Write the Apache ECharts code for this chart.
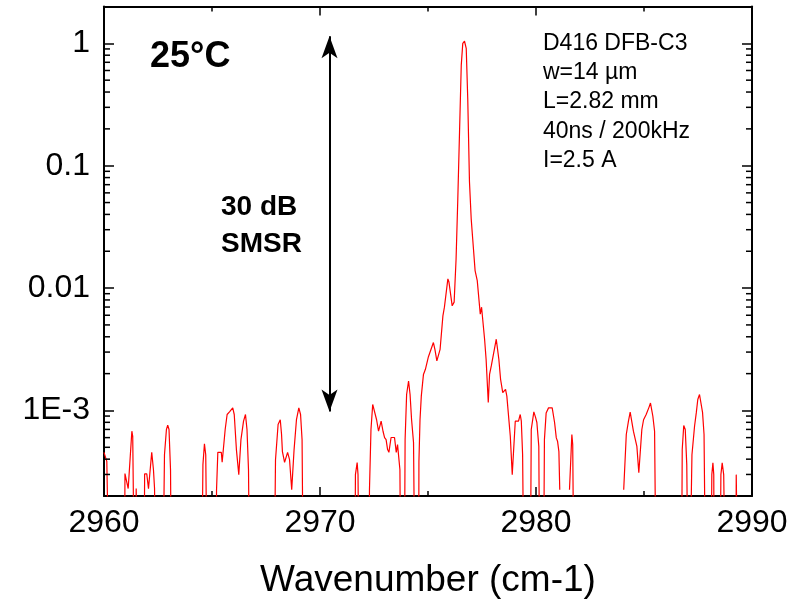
<!DOCTYPE html>
<html>
<head>
<meta charset="utf-8">
<script src="https://cdn.jsdelivr.net/npm/echarts@6/dist/echarts.min.js"></script>
<style>html,body{margin:0;padding:0;background:#fff}#c{width:802px;height:604px}</style>
</head>
<body>
<div id="c"></div>
<script>
// Wavenumber (cm-1) and normalized intensity.
// 1e-5 = below the axis floor (drops out of view); null = gap in the trace.
var wavenumber = [
2960.00,2960.09,2960.13,2960.21,2960.29,
2960.94,2960.97,2961.06,2961.12,2961.21,2961.29,2961.33,2961.44,2961.49,2961.55,2961.60,
2961.85,2961.88,2961.98,2962.06,2962.12,2962.21,2962.29,2962.34,2962.40,2962.43,
2962.69,2962.80,2962.89,2962.95,2963.01,2963.08,2963.14,
2964.49,2964.58,2964.65,2964.71,2964.81,
2965.19,2965.21,2965.27,2965.43,2965.47,2965.53,2965.61,2965.70,2965.81,2965.90,2965.96,2966.03,2966.13,2966.24,2966.34,2966.46,2966.55,2966.62,2966.69,2966.77,
2967.85,2967.94,2968.06,2968.16,2968.22,2968.26,2968.36,2968.50,2968.59,2968.69,2968.80,2968.91,2969.02,2969.10,2969.17,2969.25,
2971.60,2971.64,2971.69,2971.72,2971.76,2971.83,
2972.27,2972.29,2972.36,2972.44,2972.52,2972.62,2972.71,2972.83,2972.92,2972.99,2973.06,2973.13,2973.19,2973.29,2973.45,2973.53,2973.59,2973.65,2973.70,2973.76,
2973.89,2973.94,2974.01,2974.10,2974.17,2974.24,2974.33,2974.42,
2974.56,2974.58,2974.63,2974.69,2974.79,2974.88,2975.02,2975.11,2975.25,2975.32,2975.41,2975.56,2975.69,2975.76,2975.92,2975.97,2976.12,2976.21,2976.30,2976.38,2976.46,2976.54,2976.61,2976.69,2976.77,2976.84,2976.92,2977.00,2977.07,2977.18,2977.28,2977.42,2977.48,2977.62,2977.69,2977.79,2977.85,2977.93,2978.00,2978.16,2978.28,2978.36,2978.46,2978.59,2978.65,2978.81,2978.90,2979.04,2979.19,2979.27,2979.32,2979.38,2979.47,
2979.72,2979.78,2979.90,2979.98,2980.04,2980.13,2980.19,
2980.33,2980.39,2980.47,2980.58,2980.75,2980.86,2980.94,2981.00,2981.06,2981.10,2981.30,
2981.55,2981.66,2981.70,2981.78,2983.00,
2984.06,2984.18,2984.28,2984.36,2984.41,2984.51,2984.59,2984.67,2984.76,2984.84,2984.90,2984.98,2985.10,2985.18,2985.23,2985.30,2985.41,2985.49,2985.59,
2986.72,2986.77,2986.84,2986.91,2986.98,2987.07,
2987.14,2987.22,2987.34,2987.42,2987.49,2987.57,2987.65,2987.71,2987.78,2987.88,
2988.08,2988.14,2988.19,2988.23,2988.26,
2988.50,2988.56,2988.62,2988.69,2988.72,2988.81,
2989.24,2989.27,2989.35,2989.39,2990.00
];
var intensity = [
4.55e-4,4.55e-4,3.84e-4,3.84e-4,1e-5,
1e-5,3.05e-4,3.05e-4,2.30e-4,2.30e-4,6.77e-4,6.15e-4,1e-5,2.30e-4,2.30e-4,1e-5,
1e-5,3.03e-4,3.03e-4,2.30e-4,2.30e-4,4.55e-4,3.28e-4,2.30e-4,2.30e-4,1e-5,
1e-5,4.35e-4,6.99e-4,7.58e-4,6.99e-4,3.28e-4,1e-5,
1e-5,3.61e-4,5.33e-4,4.35e-4,1e-5,
1e-5,2.25e-4,4.55e-4,4.55e-4,3.77e-4,3.77e-4,6.99e-4,9.27e-4,9.75e-4,9.75e-4,1.05e-3,9.27e-4,4.79e-4,2.99e-4,5.78e-4,8.17e-4,9.27e-4,6.99e-4,3.28e-4,1e-5,
1e-5,3.96e-4,7.68e-4,8.40e-4,6.36e-4,4.61e-4,3.77e-4,4.55e-4,3.96e-4,2.25e-4,4.79e-4,8.40e-4,1.05e-3,9.27e-4,5.78e-4,1e-5,
1e-5,2.99e-4,2.99e-4,3.75e-4,2.99e-4,1e-5,
1e-5,2.25e-4,7.00e-4,1.12e-3,1.12e-3,8.40e-4,6.77e-4,8.17e-4,6.73e-4,6.01e-4,5.78e-4,4.79e-4,4.55e-4,6.01e-4,6.01e-4,4.55e-4,5.26e-4,5.26e-4,3.28e-4,1e-5,
1e-5,5.78e-4,1.35e-3,1.74e-3,1.35e-3,8.40e-4,5.47e-4,1e-5,
1e-5,3.84e-4,8.40e-4,1.31e-3,1.97e-3,2.17e-3,2.75e-3,2.75e-3,3.59e-3,3.16e-3,2.54e-3,3.16e-3,5.93e-3,6.98e-3,1.19e-2,1.12e-2,7.16e-3,7.68e-3,1.73e-2,5.37e-2,0.189,0.664,1.00,1.04,0.91,0.354,0.0740,0.0368,0.0252,0.0139,0.0115,6.12e-3,6.98e-3,3.82e-3,2.62e-3,1.16e-3,1.97e-3,2.31e-3,2.25e-3,3.82e-3,2.62e-3,1.80e-3,1.40e-3,1.49e-3,1.31e-3,6.15e-4,2.99e-4,8.17e-4,8.17e-4,9.27e-4,8.17e-4,4.35e-4,1e-5,
1e-5,6.99e-4,9.75e-4,8.77e-4,7.97e-4,5.09e-4,1e-5,
1e-5,5.78e-4,9.55e-4,1.05e-3,1.05e-3,7.97e-4,5.97e-4,5.57e-4,4.61e-4,2.25e-4,null,
2.25e-4,6.36e-4,5.26e-4,1e-5,null,
2.25e-4,6.36e-4,8.17e-4,9.68e-4,9.68e-4,6.77e-4,6.77e-4,5.09e-4,3.10e-4,3.10e-4,6.99e-4,8.40e-4,9.27e-4,9.55e-4,1.06e-3,1.15e-3,8.97e-4,6.77e-4,1e-5,
1e-5,4.79e-4,7.53e-4,6.99e-4,3.61e-4,1e-5,
1e-5,4.35e-4,7.43e-4,9.55e-4,1.23e-3,1.35e-3,1.31e-3,9.64e-4,6.36e-4,1e-5,
1e-5,2.99e-4,3.73e-4,2.99e-4,1e-5,
1e-5,2.99e-4,3.73e-4,2.99e-4,2.99e-4,1e-5,
1e-5,2.99e-4,2.99e-4,1e-5,1e-5
];

var xMin = 2960, xMax = 2990, xInterval = 10;
var yMin = 0.0002, yMax = 2;
var yTickValues = [0.001, 0.01, 0.1, 1];
var yTickLabels = ['1E-3', '0.01', '0.1', '1'];
var yMinorTicks = [];
[0.0001, 0.001, 0.01, 0.1].forEach(function (d) {
  for (var k = 2; k <= 9; k++) {
    var v = +(k * d).toPrecision(3);
    if (v > yMin * 1.0001 && v < yMax * 0.9999) yMinorTicks.push(v);
  }
});

// SMSR arrow endpoints (data units)
var arrowX = 2970.44, arrowTop = 1.14, arrowBottom = 0.00098;

var FONT = "'Liberation Sans', Arial, Helvetica, sans-serif";

var lineData = wavenumber.map(function (w, i) {
  return [w, intensity[i] === null ? '-' : intensity[i]];
});

function yLabel(v) {
  for (var i = 0; i < yTickValues.length; i++) {
    if (Math.abs(Math.log10(v) - Math.log10(yTickValues[i])) < 1e-6) return yTickLabels[i];
  }
  return '';
}

var chart = echarts.init(document.getElementById('c'), null, { renderer: 'canvas' });
var axisLine = { show: true, onZero: false, lineStyle: { color: '#000', width: 2 } };

chart.setOption({
  animation: false,
  backgroundColor: '#fff',
  grid: { left: 104, right: 50, top: 6.5, bottom: 108, containLabel: false },
  xAxis: [{
    type: 'value', position: 'bottom', min: xMin, max: xMax, interval: xInterval,
    axisLine: axisLine,
    axisTick: { show: true, inside: true, length: 9, lineStyle: { color: '#000', width: 1.5 } },
    minorTick: { show: true, splitNumber: 2, length: 5, lineStyle: { color: '#000', width: 1.5 } },
    splitLine: { show: false }, minorSplitLine: { show: false },
    axisLabel: { color: '#000', fontSize: 32, fontFamily: FONT, margin: 11, formatter: function (v) { return String(v); } },
    name: 'Wavenumber (cm-1)', nameLocation: 'middle', nameGap: 66,
    nameTextStyle: { color: '#000', fontSize: 37, fontFamily: FONT }
  }, {
    type: 'value', position: 'top', min: xMin, max: xMax, interval: xInterval,
    axisLine: axisLine,
    axisTick: { show: true, inside: true, length: 9, lineStyle: { color: '#000', width: 1.5 } },
    minorTick: { show: true, splitNumber: 2, length: 5, lineStyle: { color: '#000', width: 1.5 } },
    splitLine: { show: false }, axisLabel: { show: false }
  }],
  yAxis: [{
    type: 'log', logBase: 10, position: 'left', min: yMin, max: yMax,
    axisLine: axisLine,
    axisTick: { show: true, inside: true, length: 10, lineStyle: { color: '#000', width: 1.5 } },
    splitLine: { show: false },
    axisLabel: { color: '#000', fontSize: 32, fontFamily: FONT, margin: 14, formatter: yLabel, showMinLabel: false, showMaxLabel: false }
  }, {
    type: 'log', logBase: 10, position: 'right', min: yMin, max: yMax,
    axisLine: axisLine,
    axisTick: { show: true, inside: true, length: 10, lineStyle: { color: '#000', width: 1.5 } },
    splitLine: { show: false }, axisLabel: { show: false }
  }],
  series: [{
    type: 'line', xAxisIndex: 0, yAxisIndex: 0,
    data: lineData, showSymbol: false, symbol: 'none', connectNulls: false, clip: true,
    lineStyle: { color: '#ff0000', width: 1.2 },
    markLine: {
      silent: true, symbol: ['arrow', 'arrow'], symbolSize: [12, 22], precision: 6,
      label: { show: false },
      lineStyle: { color: '#000', width: 2, type: 'solid' },
      data: [[{ coord: [arrowX, arrowTop] }, { coord: [arrowX, arrowBottom] }]]
    }
  }, {
    type: 'custom', xAxisIndex: 0, yAxisIndex: 0, silent: true, clip: false, z: 5,
    data: yMinorTicks.map(function (v) { return [xMin, v]; }),
    renderItem: function (params, api) {
      var v = api.value(1);
      var pl = api.coord([xMin, v]);
      var pr = api.coord([xMax, v]);
      var st = { stroke: '#000', lineWidth: 1.5 };
      return { type: 'group', children: [
        { type: 'line', shape: { x1: pl[0], y1: pl[1], x2: pl[0] + 6, y2: pl[1] }, style: st },
        { type: 'line', shape: { x1: pr[0], y1: pr[1], x2: pr[0] - 6, y2: pr[1] }, style: st }
      ] };
    }
  }],
  graphic: [
    { type: 'text', left: 150, top: 39, style: { text: '25°C', fill: '#000', font: 'bold 36px ' + FONT } },
    { type: 'text', left: 221, top: 189, style: { text: '30 dB\nSMSR', fill: '#000', font: 'bold 28px ' + FONT, lineHeight: 37 } },
    { type: 'text', left: 543, top: 29, style: { text: 'D416 DFB-C3\nw=14 µm\nL=2.82 mm\n40ns / 200kHz\nI=2.5 A', fill: '#000', font: '23px ' + FONT, lineHeight: 29.2 } }
  ]
});
</script>
</body>
</html>
